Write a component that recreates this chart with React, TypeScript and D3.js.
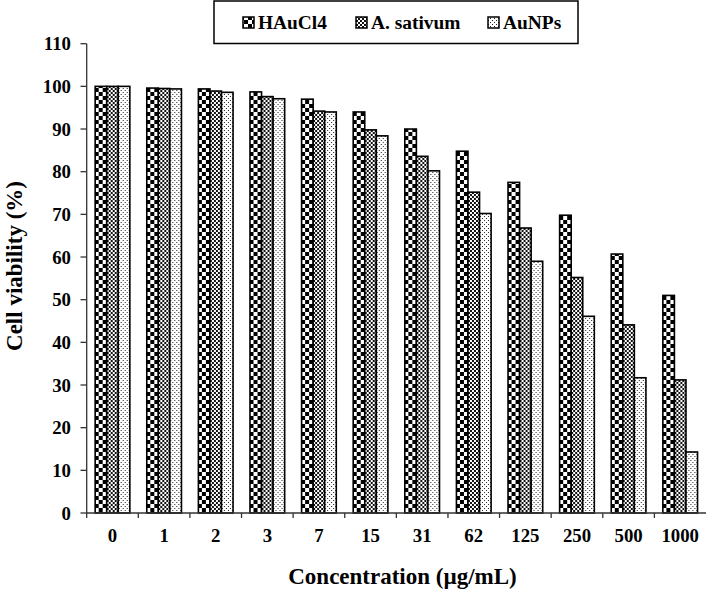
import React from "react";
import * as d3 from "d3";

const categories = ["0", "1", "2", "3", "7", "15", "31", "62", "125", "250", "500", "1000"];
const seriesNames = ["HAuCl4", "A. sativum", "AuNPs"];
const hauCl4 = [100, 99.6, 99.4, 98.7, 97, 94, 90, 84.8, 77.5, 69.8, 60.7, 51];
const aSativum = [100, 99.5, 98.9, 97.6, 94.2, 89.8, 83.6, 75.2, 66.8, 55.2, 44.1, 31.2];
const auNPs = [100, 99.4, 98.6, 97.1, 94, 88.4, 80.2, 70.2, 59, 46.1, 31.7, 14.3];
const yTicks = [0, 10, 20, 30, 40, 50, 60, 70, 80, 90, 100, 110];

const W = 707;
const H = 593;
const FONT = '"Times New Roman", "Liberation Serif", Tinos, "DejaVu Serif", serif';

export default function App() {
  const values = [hauCl4, aSativum, auNPs];
  const patterns = ["pCheckBig", "pCheckSmall", "pDots"];
  const x = d3.scaleBand<string>().domain(categories).range([86.7, 706]).paddingInner(0).paddingOuter(0);
  const step = x.bandwidth();
  const groupW = step * 0.672;
  const sub = d3
    .scaleBand<number>()
    .domain([0, 1, 2])
    .range([(step - groupW) / 2, (step + groupW) / 2]);
  const y = d3.scaleLinear().domain([0, 110]).range([513, 43.7]);
  const axisColor = "#333";

  const legendItems = [
    { name: seriesNames[0], sx: 243, tx: 258 },
    { name: seriesNames[1], sx: 356, tx: 371 },
    { name: seriesNames[2], sx: 488, tx: 503 },
  ];

  const textStyle = { fontFamily: FONT, fontWeight: 700 } as React.CSSProperties;

  return (
    <svg
      width={W}
      height={H}
      style={{ position: "absolute", left: 0, top: 0, background: "#fff", display: "block", fontFamily: FONT }}
    >
      <defs>
        <pattern id="pCheckBig" patternUnits="userSpaceOnUse" width={8} height={8}>
          <rect width={8} height={8} fill="#fff" />
          <rect x={0} y={0} width={4} height={4} fill="#000" />
          <rect x={4} y={4} width={4} height={4} fill="#000" />
        </pattern>
        <pattern id="pCheckSmall" patternUnits="userSpaceOnUse" width={4} height={4}>
          <rect width={4} height={4} fill="#fff" />
          <rect x={0} y={0} width={2} height={2} fill="#111" />
          <rect x={2} y={2} width={2} height={2} fill="#111" />
        </pattern>
        <pattern id="pDots" patternUnits="userSpaceOnUse" width={4} height={4}>
          <rect width={4} height={4} fill="#fff" />
          <rect x={0} y={0} width={1} height={1} fill="#222" />
          <rect x={2} y={2} width={1} height={1} fill="#222" />
        </pattern>
      </defs>
      <rect width={W} height={H} fill="#fff" />

      {/* bars */}
      {categories.map((c, i) => (
        <g key={c} transform={`translate(${x(c)},0)`}>
          {values.map((vals, s) => (
            <rect
              key={s}
              x={sub(s)}
              y={y(vals[i])}
              width={sub.bandwidth()}
              height={y(0) - y(vals[i])}
              fill={`url(#${patterns[s]})`}
              stroke="#000"
              strokeWidth={1.6}
            />
          ))}
        </g>
      ))}

      {/* y axis */}
      <line x1={86.7} x2={86.7} y1={y(110)} y2={y(0)} stroke={axisColor} strokeWidth={1.3} />
      {yTicks.map((t) => (
        <g key={t}>
          <line x1={80.5} x2={86.7} y1={y(t)} y2={y(t)} stroke={axisColor} strokeWidth={1.3} />
          <text x={71} y={y(t)} dy="0.35em" textAnchor="end" fontSize={18.8} style={textStyle}>
            {t}
          </text>
        </g>
      ))}

      {/* x axis */}
      <line x1={86.7} x2={706} y1={y(0)} y2={y(0)} stroke={axisColor} strokeWidth={1.3} />
      {categories.map((c) => (
        <line
          key={"t" + c}
          x1={x(c)}
          x2={x(c)}
          y1={y(0)}
          y2={y(0) + 5}
          stroke={axisColor}
          strokeWidth={1.3}
        />
      ))}
      {categories.map((c) => (
        <text
          key={"l" + c}
          x={(x(c) as number) + step / 2}
          y={542}
          textAnchor="middle"
          fontSize={18.8}
          style={textStyle}
        >
          {c}
        </text>
      ))}

      {/* axis titles */}
      <text x={402.5} y={584} textAnchor="middle" fontSize={23} style={textStyle}>
        Concentration (µg/mL)
      </text>
      <text
        transform={`translate(22,${266}) rotate(-90)`}
        textAnchor="middle"
        fontSize={23}
        style={textStyle}
      >
        Cell viability (%)
      </text>

      {/* legend */}
      <rect x={214} y={1} width={364} height={42.5} fill="#fff" stroke="#000" strokeWidth={1.5} />
      {legendItems.map((it, s) => (
        <g key={it.name}>
          <rect
            x={it.sx}
            y={17}
            width={11}
            height={11}
            fill={`url(#${patterns[s]})`}
            stroke="#000"
            strokeWidth={1.5}
          />
          <text x={it.tx} y={29} fontSize={19.4} style={textStyle}>
            {it.name}
          </text>
        </g>
      ))}
    </svg>
  );
}
